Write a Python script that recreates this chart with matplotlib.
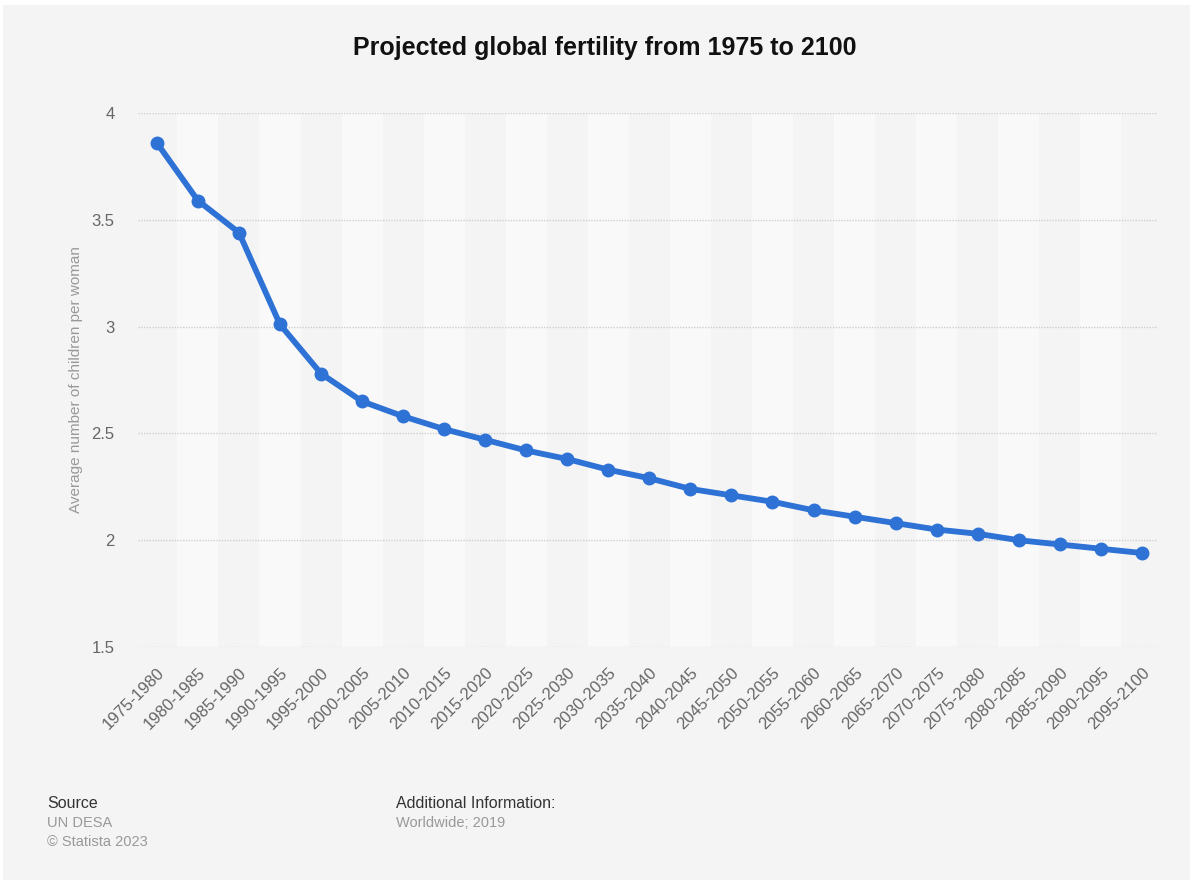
import matplotlib
matplotlib.use("Agg")
import matplotlib.pyplot as plt
from matplotlib.patches import Rectangle

periods = ["1975-1980", "1980-1985", "1985-1990", "1990-1995", "1995-2000",
           "2000-2005", "2005-2010", "2010-2015", "2015-2020", "2020-2025",
           "2025-2030", "2030-2035", "2035-2040", "2040-2045", "2045-2050",
           "2050-2055", "2055-2060", "2060-2065", "2065-2070", "2070-2075",
           "2075-2080", "2080-2085", "2085-2090", "2090-2095", "2095-2100"]
fertility = [3.86, 3.59, 3.44, 3.01, 2.78, 2.65, 2.58, 2.52, 2.47, 2.42,
             2.38, 2.33, 2.29, 2.24, 2.21, 2.18, 2.14, 2.11, 2.08, 2.05,
             2.03, 2.00, 1.98, 1.96, 1.94]
y_ticks = [1.5, 2, 2.5, 3, 3.5, 4]
y_tick_labels = ["1.5", "2", "2.5", "3", "3.5", "4"]

plt.rcParams['font.family'] = ['Liberation Sans', 'DejaVu Sans']

W, H = 1200, 885
fig = plt.figure(figsize=(W / 100, H / 100), dpi=100, facecolor='white')
bg = '#f4f4f4'
fig.patches.append(Rectangle((3 / W, 5 / H), 1187 / W, 875 / H, transform=fig.transFigure,
                             facecolor=bg, edgecolor='none', zorder=-10))

left, right, top, bottom = 138, 1157, 113, 647
ax = fig.add_axes([left / W, 1 - bottom / H, (right - left) / W, (bottom - top) / H])
ax.set_facecolor(bg)

x = list(range(len(periods)))
for i in x:
    if i % 2 == 1:
        ax.axvspan(i - 0.5, i + 0.5, color='#f9f9f9', zorder=0, lw=0)

ax.set_ylim(1.5, 4)
ax.set_xlim(-0.46, 24.37)
ax.set_yticks(y_ticks)
ax.set_yticklabels(y_tick_labels)
ax.yaxis.grid(True, color='#cfcfcf', linestyle=(0, (1, 1)), linewidth=1.0, zorder=1)
ax.set_axisbelow(True)

ax.plot(x, fertility, color='#2e72d6', linewidth=4.2, marker='o', markersize=9,
        solid_joinstyle='round', zorder=3, clip_on=False)

ax.set_xticks(x)
ax.set_xticklabels(periods, rotation=45, ha='right', rotation_mode='anchor')
ax.tick_params(axis='both', length=0, colors='#666666', labelsize=12)
ax.tick_params(axis='x', pad=13)
ax.tick_params(axis='y', pad=17)
for sp in ax.spines.values():
    sp.set_visible(False)

ax.set_ylabel("Average number of children per woman", color='#999999', fontsize=11)
ax.yaxis.set_label_coords(-0.054, 0.5)

fig.text(605 / W, 1 - 48 / H, "Projected global fertility from 1975 to 2100",
         ha='center', va='center', fontsize=18, fontweight='bold', color='#111111')

fig.text(47 / W, 1 - 803 / H, "Source", ha='left', va='center', fontsize=11.5, color='#333333')
fig.text(47 / W, 1 - 823 / H, "UN DESA", ha='left', va='center', fontsize=10.5, color='#999999')
fig.text(47 / W, 1 - 842 / H, "© Statista 2023", ha='left', va='center', fontsize=10.5, color='#999999')
fig.text(396 / W, 1 - 803 / H, "Additional Information:", ha='left', va='center', fontsize=11.5, color='#333333')
fig.text(396 / W, 1 - 823 / H, "Worldwide; 2019", ha='left', va='center', fontsize=10.5, color='#999999')

fig.savefig("out.png", dpi=100, facecolor=fig.get_facecolor())
